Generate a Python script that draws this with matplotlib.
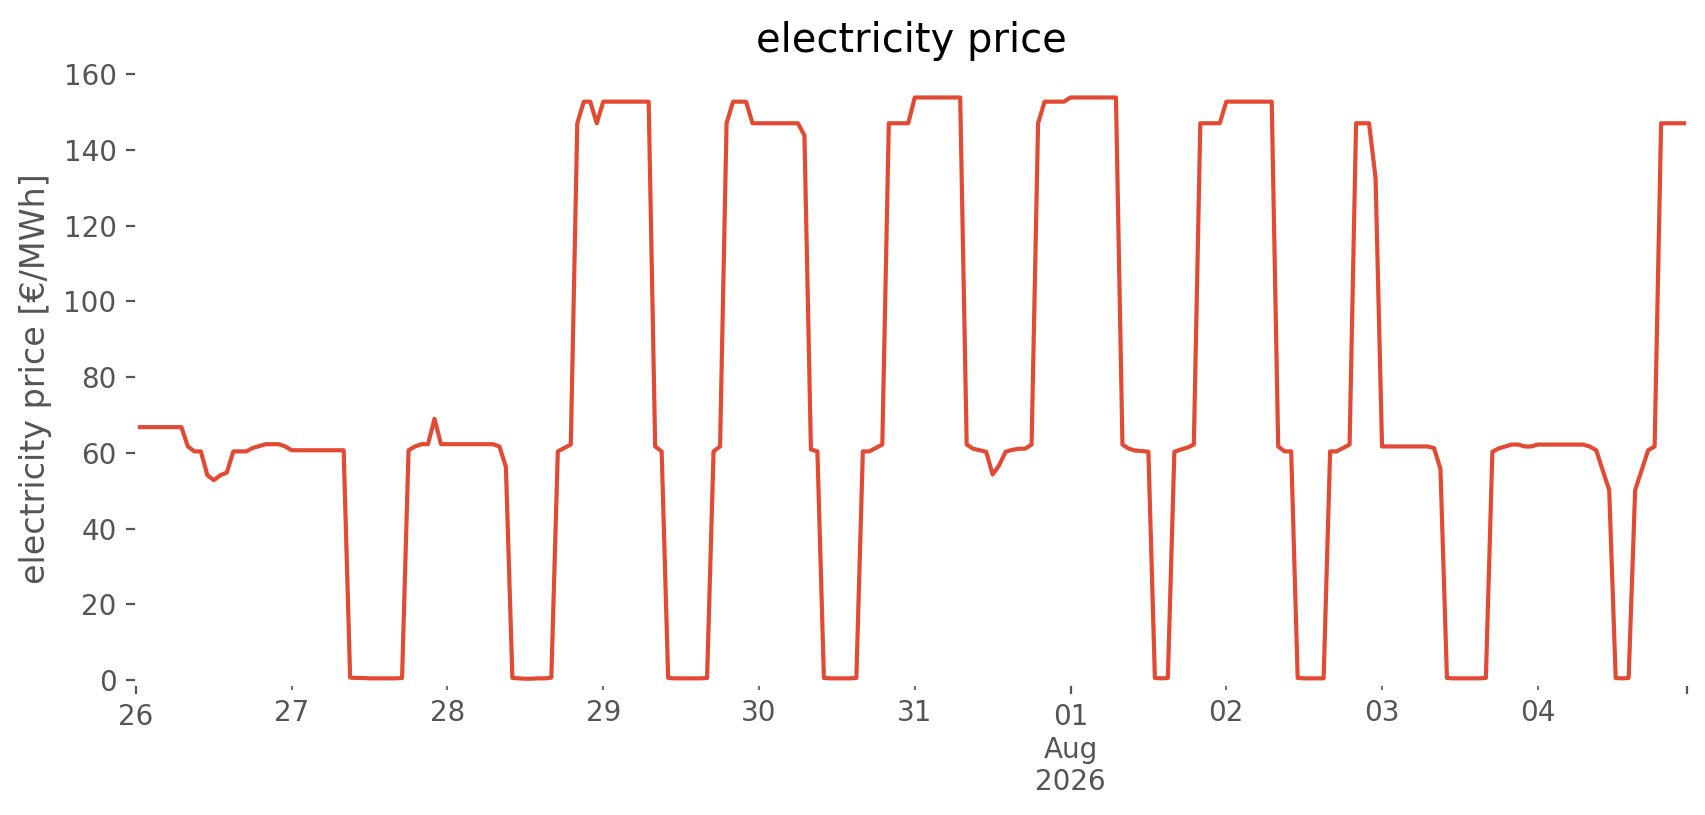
import pandas as pd
import matplotlib
matplotlib.use("Agg")
import matplotlib.pyplot as plt

plt.style.use("ggplot")

# hourly electricity price [EUR/MWh], one list per day
jul26 = [66.8, 66.8, 66.8, 66.8, 66.8, 66.8, 66.8, 66.8, 61.7, 60.4, 60.4, 54.1,
         52.8, 54.1, 54.8, 60.4, 60.4, 60.4, 61.3, 61.8, 62.3, 62.3, 62.3, 61.7]
jul27 = [60.7, 60.7, 60.7, 60.7, 60.7, 60.7, 60.7, 60.7, 60.7, 0.7, 0.6, 0.6,
         0.5, 0.5, 0.5, 0.5, 0.5, 0.6, 60.7, 61.7, 62.3, 62.3, 69.0, 62.3]
jul28 = [62.3, 62.3, 62.3, 62.3, 62.3, 62.3, 62.3, 62.3, 61.7, 56.3, 0.6, 0.5,
         0.4, 0.4, 0.5, 0.5, 0.7, 60.4, 61.3, 62.2, 147.0, 152.7, 152.7, 147.0]
jul29 = [152.7, 152.7, 152.7, 152.7, 152.7, 152.7, 152.7, 152.7, 61.7, 60.4, 0.6, 0.5,
         0.5, 0.5, 0.5, 0.5, 0.6, 60.4, 61.7, 147.0, 152.7, 152.7, 152.7, 147.0]
jul30 = [147.0, 147.0, 147.0, 147.0, 147.0, 147.0, 147.0, 143.8, 60.9, 60.4, 0.6, 0.5,
         0.5, 0.5, 0.5, 0.6, 60.4, 60.4, 61.3, 62.2, 147.0, 147.0, 147.0, 147.0]
jul31 = [153.8, 153.8, 153.8, 153.8, 153.8, 153.8, 153.8, 153.8, 62.2, 61.1, 60.7, 60.3,
         54.3, 56.7, 60.3, 60.8, 61.1, 61.1, 62.2, 147.0, 152.7, 152.7, 152.7, 152.7]
aug01 = [153.8, 153.8, 153.8, 153.8, 153.8, 153.8, 153.8, 153.8, 62.2, 61.1, 60.6, 60.5,
         60.3, 0.6, 0.5, 0.6, 60.3, 60.9, 61.4, 62.2, 147.0, 147.0, 147.0, 147.0]
aug02 = [152.7, 152.7, 152.7, 152.7, 152.7, 152.7, 152.7, 152.7, 61.7, 60.4, 60.4, 0.6,
         0.5, 0.5, 0.5, 0.5, 60.4, 60.4, 61.3, 62.2, 147.0, 147.0, 147.0, 132.6]
aug03 = [61.7, 61.7, 61.7, 61.7, 61.7, 61.7, 61.7, 61.7, 61.3, 55.8, 0.6, 0.5,
         0.5, 0.5, 0.5, 0.5, 0.6, 60.3, 61.2, 61.7, 62.2, 62.2, 61.7, 61.7]
aug04 = [62.2, 62.2, 62.2, 62.2, 62.2, 62.2, 62.2, 62.2, 61.7, 60.7, 55.4, 50.2,
         0.6, 0.5, 0.6, 50.2, 55.4, 60.7, 61.7, 147.0, 147.0, 147.0, 147.0, 147.0]

days = [jul26, jul27, jul28, jul29, jul30, jul31, aug01, aug02, aug03, aug04]
values = [v for day in days for v in day]
index = pd.date_range("2026-07-26 00:00", periods=len(values), freq="h")
price = pd.Series(values, index=index, name="electricity price")

fig = plt.figure(figsize=(8.53, 4.075), dpi=200)
ax = fig.add_axes([0.0797, 0.1607, 0.9092, 0.7485])

price.plot(ax=ax, color="#E24A33", linewidth=1.5)

ax.set_facecolor("white")
ax.grid(False)
ax.set_ylim(-1, 160)
ax.set_title("electricity price", pad=8)
ax.set_ylabel("electricity price [€/MWh]")
ax.set_xlabel("")

fig.savefig("out.png", dpi=200)
